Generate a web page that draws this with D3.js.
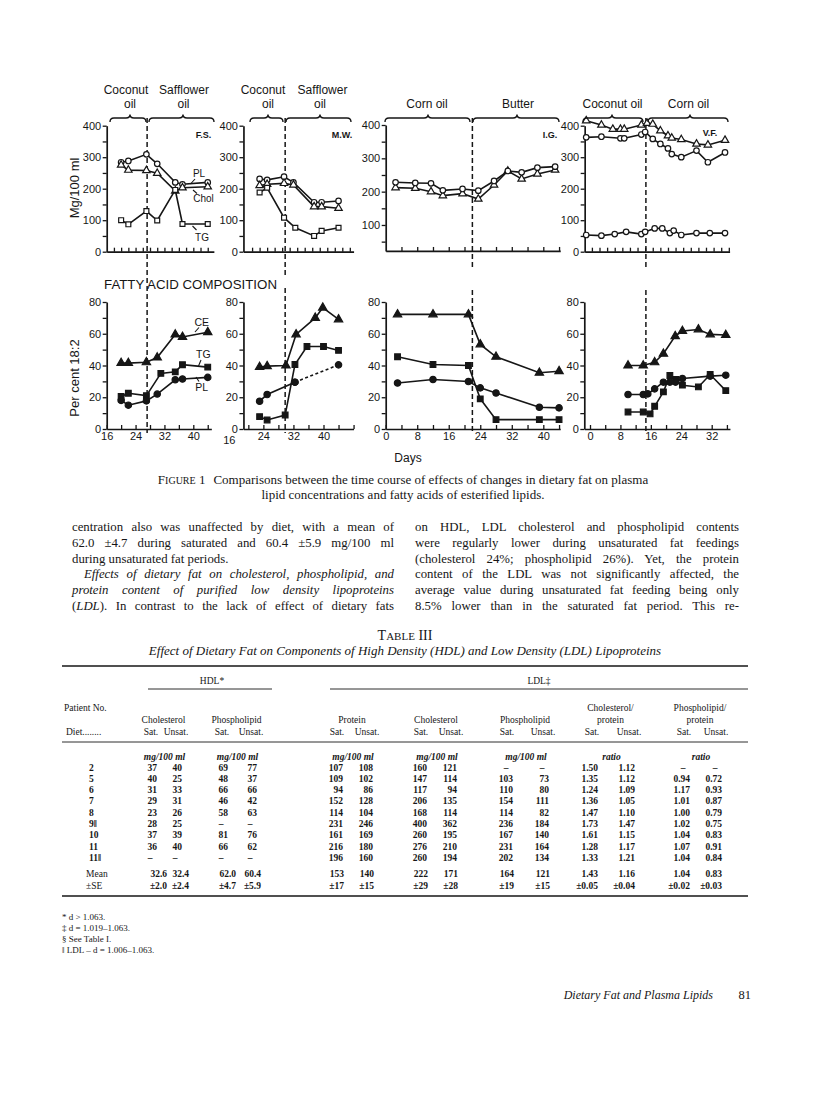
<!DOCTYPE html>
<html lang="en">
<head>
<meta charset="utf-8">
<title>Dietary Fat and Plasma Lipids - Figure 1 and Table III</title>
<script src="https://d3js.org/d3.v7.min.js"></script>
<style>
body { margin: 0; background: #fff; }
svg { display: block; background: #fff; }
</style>
</head>
<body>
<script>

// ---------- Figure 1 : plasma lipids, mg/100 ml (top row) ----------
var fsDays = [20, 22, 27, 30, 35, 37, 44];
var fsPL = [284, 288, 309, 279, 220, 214, 220];
var fsChol = [275, 259, 258, 249, 193, 203, 206];
var fsTG = [100, 87, 129, 99, 196, 88, 88];

var mwDays = [23, 25, 29.5, 32, 37.5, 39.5, 44];
var mwPL = [231, 228, 238, 220, 157, 157, 161];
var mwChol = [210, 214, 217, 212, 143, 143, 138];
var mwTGDays = [23, 25, 29.5, 32.5, 37.5, 39.5, 44];
var mwTG = [188, 203, 108, 76, 50, 66, 76];

var igDays = [2.5, 7.5, 11.5, 14.5, 19.5, 23.5, 27.5, 31, 34.5, 38.5, 43];
var igPL = [228, 226, 225, 204, 208, 203, 232, 262, 258, 272, 275];
var igChol = [212, 210, 200, 188, 194, 178, 220, 262, 238, 253, 265];

var vfCholDays = [-1, 3, 6, 8, 9, 13.5, 15, 16.5, 18.5, 20.5, 21.5, 24, 28, 31, 35.5];
var vfChol = [416, 402, 389, 389, 389, 402, 408, 405, 384, 368, 361, 356, 342, 339, 354];
var vfPLDays = [-1, 3, 8, 9, 13.5, 14.5, 16.5, 18.5, 20.5, 21.5, 24, 28, 31, 35.5];
var vfPL = [363, 365, 360, 360, 372, 380, 358, 342, 328, 310, 300, 321, 284, 315];
var vfTGDays = [-1, 3, 6.5, 9.5, 13.5, 14.5, 17, 19, 21, 22, 24, 28, 31.5, 35.5];
var vfTG = [53, 51, 56, 63, 56, 63, 74, 74, 59, 67, 53, 59, 59, 59];

// ---------- Figure 1 : fatty acid composition, per cent 18:2 (bottom row) ----------
var fsFaDays = [20, 22, 27, 30, 35, 37, 44];
var fsCE = [41.5, 41.5, 42, 45, 59.5, 58, 61];
var fsFaPL = [18, 15, 17.7, 22, 31, 31.5, 32.5];
var fsFaTGDays = [20, 22, 27, 31, 35, 37, 44];
var fsFaTG = [20.5, 22.5, 21, 35, 36, 40.5, 39];

var mwCEDays = [23, 25, 30, 32.7, 37.8, 39.8, 44];
var mwCE = [39, 39.6, 40, 59.6, 70, 76.4, 69];
var mwFaTGDays = [23, 25, 29.8, 32.4, 35.6, 40, 44];
var mwFaTG = [7.8, 5.7, 8.8, 40.6, 52, 52, 49.5];
var mwFaPLDays = [23, 25, 32.4];
var mwFaPL = [17.5, 21.7, 29.5];
var mwFaPLLateDays = [32.4, 44]; // dashed part
var mwFaPLLate = [29.5, 40.4];

var igFaDays = [3, 12, 21, 24, 28, 39, 44];
var igCE = [72.2, 72.2, 72.2, 53.3, 45.5, 35.4, 36.4];
var igFaTG = [45.5, 40.6, 40, 19, 5.9, 5.9, 5.9];
var igFaPL = [29, 31.2, 29.9, 25.9, 22.7, 13.7, 13.3];

var vfCEDays = [10, 14, 17, 19.3, 22.4, 24.3, 28.5, 31.6, 35.7];
var vfCE = [40, 40, 42, 47.4, 58.5, 61.7, 62.7, 59.6, 59.2];
var vfFaPLDays = [10, 14, 15.2, 17, 19.3, 21, 22.5, 24.3, 31.6, 35.7];
var vfFaPL = [21.7, 21.7, 22.1, 25.3, 29.5, 29.5, 29.5, 31.8, 33.3, 33.9];
var vfFaTGDays = [10, 14, 15.8, 17, 19.3, 21, 22.5, 24.3, 28.5, 31.6, 35.7];
var vfFaTG = [10.7, 10.7, 9.5, 14.3, 23.4, 33.7, 31.2, 27.6, 26.5, 34.3, 24.2];

// day of the diet change in each panel
var dietSwitch = [27.2, 29.8, 22, 14.7];
var panelIds = ["F.S.", "M.W.", "I.G.", "V.F."];

// ---------- Table III ----------
var patientNo = ["2", "5", "6", "7", "8", "9\u2016", "10", "11", "11\u2016"];
var hdlCholSat = [37, 40, 31, 29, 23, 28, 37, 36, null];
var hdlCholUnsat = [40, 25, 33, 31, 26, 25, 39, 40, null];
var hdlPLSat = [69, 48, 66, 46, 58, null, 81, 66, null];
var hdlPLUnsat = [77, 37, 66, 42, 63, null, 76, 62, null];
var ldlProtSat = [107, 109, 94, 152, 114, 231, 161, 216, 196];
var ldlProtUnsat = [108, 102, 86, 128, 104, 246, 169, 180, 160];
var ldlCholSat = [160, 147, 117, 206, 168, 400, 260, 276, 260];
var ldlCholUnsat = [121, 114, 94, 135, 114, 362, 195, 210, 194];
var ldlPLSat = [null, 103, 110, 154, 114, 236, 167, 231, 202];
var ldlPLUnsat = [null, 73, 80, 111, 82, 184, 140, 164, 134];
var cholProtSat = ["1.50", "1.35", "1.24", "1.36", "1.47", "1.73", "1.61", "1.28", "1.33"];
var cholProtUnsat = ["1.12", "1.12", "1.09", "1.05", "1.10", "1.47", "1.15", "1.17", "1.21"];
var plProtSat = [null, "0.94", "1.17", "1.01", "1.00", "1.02", "1.04", "1.07", "1.04"];
var plProtUnsat = [null, "0.72", "0.93", "0.87", "0.79", "0.75", "0.83", "0.91", "0.84"];
var tableMean = ["32.6", "32.4", "62.0", "60.4", "153", "140", "222", "171", "164", "121", "1.43", "1.16", "1.04", "0.83"];
var tableSE = ["\u00b12.0", "\u00b12.4", "\u00b14.7", "\u00b15.9", "\u00b117", "\u00b115", "\u00b129", "\u00b128", "\u00b119", "\u00b115", "\u00b10.05", "\u00b10.04", "\u00b10.02", "\u00b10.03"];

var ink = "#161616";
var sans = "'Liberation Sans', Arial, Helvetica, sans-serif";
var serif = "'Liberation Serif', 'Times New Roman', serif";

var svg = d3.select("body").append("svg")
	.attr("width", 816)
	.attr("height", 1100);

// scales
var panelX = [
	d3.scaleLinear().domain([16, 40]).range([106.7, 193.3]),
	d3.scaleLinear().domain([16, 40]).range([233.3, 323.5]),
	d3.scaleLinear().domain([0, 40]).range([385.7, 543.3]),
	d3.scaleLinear().domain([0, 32]).range([590, 711.7])
];
var topY = d3.scaleLinear().domain([0, 400]).range([251.7, 125.7]);
var topY3 = d3.scaleLinear().domain([0, 400]).range([258.3, 125]);
var botY = d3.scaleLinear().domain([0, 80]).range([429, 302]);

function drawAxes(x, y, xExt, yExt, xTicks, xLabels, yTicks, yLabels) {
	var xs = x.copy().domain(xExt).range(xExt.map(x));
	var ys = y.copy().domain(yExt).range(yExt.map(y));
	var gx = svg.append("g")
		.attr("transform", "translate(0," + ys(yExt[0]) + ")")
		.call(d3.axisBottom(xs).tickValues(xTicks).tickSizeInner(-4).tickSizeOuter(0).tickPadding(3)
			.tickFormat(function(d) { return xLabels.indexOf(d) >= 0 ? d : ""; }));
	var gy = svg.append("g")
		.attr("transform", "translate(" + xs(xExt[0]) + ",0)")
		.call(d3.axisLeft(ys).tickValues(yTicks).tickSizeInner(4).tickSizeOuter(0).tickPadding(1.5)
			.tickFormat(function(d) { return yLabels.indexOf(d) >= 0 ? d : ""; }));
	[gx, gy].forEach(function(g) {
		g.attr("color", ink).attr("font-family", sans).attr("font-size", 11);
		g.select(".domain").attr("stroke-width", 1.7);
		g.selectAll(".tick line").attr("stroke-width", 1.3);
	});
}

function drawSeries(x, y, days, vals, shape, filled, dashed) {
	var pts = days.map(function(d, i) { return [x(d), y(vals[i])]; });
	svg.append("path")
		.attr("d", d3.line()(pts))
		.attr("fill", "none")
		.attr("stroke", ink)
		.attr("stroke-width", 1.6)
		.attr("stroke-dasharray", dashed ? "3,2.5" : null);
	if (!shape) return;
	svg.selectAll(null)
		.data(pts)
		.enter()
		.append("path")
		.attr("transform", function(d) { return "translate(" + d + ")"; })
		.attr("d", d3.symbol().type(shape).size(filled ? (shape === d3.symbolTriangle ? 30 : 32) : 24))
		.attr("fill", filled ? ink : "#fff")
		.attr("stroke", ink)
		.attr("stroke-width", 1.2);
}

function brace(x0, x1, xm, y) {
	var p = d3.path();
	p.moveTo(x0, y + 4);
	p.quadraticCurveTo(x0, y, x0 + 4, y);
	p.lineTo(xm - 4, y);
	p.quadraticCurveTo(xm, y, xm, y - 3.5);
	p.quadraticCurveTo(xm, y, xm + 4, y);
	p.lineTo(x1 - 4, y);
	p.quadraticCurveTo(x1, y, x1, y + 4);
	svg.append("path").attr("d", p.toString())
		.attr("fill", "none").attr("stroke", ink).attr("stroke-width", 1.4);
}

function txt(s, x, y, size, opts) {
	opts = opts || {};
	return svg.append("text")
		.attr("x", x).attr("y", y)
		.attr("font-family", opts.family || sans)
		.attr("font-size", size)
		.attr("font-weight", opts.weight || null)
		.attr("font-style", opts.italic ? "italic" : null)
		.attr("text-anchor", opts.anchor || "middle")
		.attr("fill", ink)
		.text(s);
}

function segLine(x1, y1, x2, y2, w) {
	svg.append("line").attr("x1", x1).attr("y1", y1).attr("x2", x2).attr("y2", y2)
		.attr("stroke", ink).attr("stroke-width", w || 1.1);
}

// ---------- axes ----------
var topExt = [[16, 45.7], [18.7, 48], [0, 44.3], [-1.4, 36.7]];
var botExt = [[16, 45], [18.7, 48], [0, 44.3], [-1.5, 36.8]];
var topTicks = [d3.range(18, 46, 2), d3.range(21, 48.1, 2), d3.range(4, 44.4, 4), d3.range(0.5, 36.7, 2)];
var botTicks = [d3.range(16, 45, 4), d3.range(20, 48.1, 4), d3.range(0, 44.4, 4), d3.range(0, 36.8, 4)];
var botLabels = [[16, 24, 32, 40], [24, 32, 40], [0, 8, 16, 24, 32, 40], [0, 8, 16, 24, 32]];

panelX.forEach(function(x, i) {
	if (i === 2) {
		drawAxes(x, topY3, topExt[i], [22, 400], topTicks[i], [], d3.range(50, 401, 50), [100, 200, 300, 400]);
	} else {
		drawAxes(x, topY, topExt[i], [0, 400], topTicks[i], [], d3.range(0, 401, 50), [0, 100, 200, 300, 400]);
	}
	drawAxes(x, botY, botExt[i], [0, 80], botTicks[i], botLabels[i], d3.range(0, 81, 10), [0, 20, 40, 60, 80]);
});
// "16" printed left of the second panel's axis, under its "0"
txt("16", panelX[1](16) - 4, botY(0) + 14.5, 11);

// diet change lines
dietSwitch.forEach(function(d, i) {
	var xp = panelX[i](d);
	var segs = i === 0 ? [[118, 433]] : [[118, i === 1 ? 275 : 268], [i === 1 ? 288 : 290, 433]];
	segs.forEach(function(s) {
		svg.append("line").attr("x1", xp).attr("x2", xp).attr("y1", s[0]).attr("y2", s[1])
			.attr("stroke", ink).attr("stroke-width", 1.5).attr("stroke-dasharray", "5,3");
	});
});

// ---------- series ----------
var C = d3.symbolCircle, S = d3.symbolSquare, T = d3.symbolTriangle;
drawSeries(panelX[0], topY, fsDays, fsPL, C);
drawSeries(panelX[0], topY, fsDays, fsChol, T);
drawSeries(panelX[0], topY, fsDays, fsTG, S);
drawSeries(panelX[1], topY, mwDays, mwPL, C);
drawSeries(panelX[1], topY, mwDays, mwChol, T);
drawSeries(panelX[1], topY, mwTGDays, mwTG, S);
drawSeries(panelX[2], topY3, igDays, igChol, T);
drawSeries(panelX[2], topY3, igDays, igPL, C);
drawSeries(panelX[3], topY, vfCholDays, vfChol, T);
drawSeries(panelX[3], topY, vfPLDays, vfPL, C);
drawSeries(panelX[3], topY, vfTGDays, vfTG, C);

drawSeries(panelX[0], botY, fsFaDays, fsCE, T, true);
drawSeries(panelX[0], botY, fsFaTGDays, fsFaTG, S, true);
drawSeries(panelX[0], botY, fsFaDays, fsFaPL, C, true);
drawSeries(panelX[1], botY, mwCEDays, mwCE, T, true);
drawSeries(panelX[1], botY, mwFaTGDays, mwFaTG, S, true);
drawSeries(panelX[1], botY, mwFaPLLateDays, mwFaPLLate, C, true, true);
drawSeries(panelX[1], botY, mwFaPLDays, mwFaPL, C, true);
drawSeries(panelX[2], botY, igFaDays, igCE, T, true);
drawSeries(panelX[2], botY, igFaDays, igFaTG, S, true);
drawSeries(panelX[2], botY, igFaDays, igFaPL, C, true);
drawSeries(panelX[3], botY, vfCEDays, vfCE, T, true);
drawSeries(panelX[3], botY, vfFaTGDays, vfFaTG, S, true);
drawSeries(panelX[3], botY, vfFaPLDays, vfFaPL, C, true);

// ---------- diet braces and labels ----------
brace(110, 146, 130, 118); brace(149, 214, 183, 118);
brace(250, 283, 268, 118); brace(286, 351, 320, 118);
brace(385, 470, 428, 118); brace(473, 559, 517, 118);
brace(583, 643, 612, 118); brace(648, 728, 690, 118);

[["Coconut", 126, 94], ["oil", 130, 108], ["Safflower", 184, 94], ["oil", 183.5, 108],
 ["Coconut", 263, 94], ["oil", 268, 108], ["Safflower", 322.5, 94], ["oil", 320, 108],
 ["Corn oil", 427, 108], ["Butter", 518, 108],
 ["Coconut oil", 612.5, 108], ["Corn oil", 688.5, 108]].forEach(function(d) {
	txt(d[0], d[1], d[2], 12);
});

[[203.5, 137.5], [342, 137.5], [550, 137.5], [710, 135.5]].forEach(function(p, i) {
	txt(panelIds[i], p[0], p[1], 9, {weight: "bold"});
});

// curve labels, first panel
txt("PL", 199, 177, 10);
txt("Chol", 203.5, 202, 10);
txt("TG", 202, 241, 10);
segLine(195, 179, 190.5, 184);
segLine(197, 193.5, 193, 190);
segLine(196.5, 230, 192.5, 226);
txt("CE", 201.7, 325.5, 10.5);
txt("TG", 203.3, 358, 10.5);
txt("PL", 201.7, 391, 10.5);
segLine(199, 327.5, 195, 332);
segLine(201, 360, 198.5, 366);
segLine(199, 381.5, 196, 377);

// axis titles
txt("Mg/100 ml", 0, 0, 13).attr("transform", "translate(79,188) rotate(-90)");
txt("Per cent 18:2", 0, 0, 13).attr("transform", "translate(79,378) rotate(-90)");
txt("FATTY ACID COMPOSITION", 190.5, 289, 12.5).attr("textLength", 173).attr("lengthAdjust", "spacingAndGlyphs");
txt("Days", 408, 462, 12);

// ---------- caption ----------
var cap = svg.append("text").attr("x", 403).attr("y", 484).attr("text-anchor", "middle")
	.attr("font-family", serif).attr("font-size", 13).attr("fill", ink);
cap.append("tspan").text("F");
cap.append("tspan").attr("font-size", 10).text("IGURE");
cap.append("tspan").text(" 1");
cap.append("tspan").attr("dx", 8).text("Comparisons between the time course of effects of changes in dietary fat on plasma");
txt("lipid concentrations and fatty acids of esterified lipids.", 403, 498.5, 13, {family: serif});

// ---------- body text (two justified columns) ----------
var leftLines = [
	[["centration also was unaffected by diet, with a mean of", 0]],
	[["62.0 \u00b14.7 during saturated and 60.4 \u00b15.9 mg/100 ml", 0]],
	[["during unsaturated fat periods.", 0]],
	[["Effects of dietary fat on cholesterol, phospholipid, and", 1]],
	[["protein content of purified low density lipoproteins", 1]],
	[["(", 0], ["LDL", 1], ["). In contrast to the lack of effect of dietary fats", 0]]
];
var rightLines = [
	[["on HDL, LDL cholesterol and phospholipid contents", 0]],
	[["were regularly lower during unsaturated fat feedings", 0]],
	[["(cholesterol 24%; phospholipid 26%). Yet, the protein", 0]],
	[["content of the LDL was not significantly affected, the", 0]],
	[["average value during unsaturated fat feeding being only", 0]],
	[["8.5% lower than in the saturated fat period. This re-", 0]]
];

function column(lines, x0, width, ragged, indent) {
	lines.forEach(function(segs, i) {
		var ind = indent.indexOf(i) >= 0 ? 12 : 0;
		var t = svg.append("text").attr("x", x0 + ind).attr("y", 531 + i * 15.8)
			.attr("font-family", serif).attr("font-size", 12.8).attr("fill", ink);
		segs.forEach(function(s) {
			t.append("tspan").attr("font-style", s[1] ? "italic" : null).text(s[0]);
		});
		if (ragged.indexOf(i) >= 0) return;
		var len = t.node().getComputedTextLength();
		var spaces = (t.text().match(/ /g) || []).length;
		if (spaces) t.style("word-spacing", ((width - ind - len) / spaces) + "px");
	});
}
column(leftLines, 72, 322, [2], [3]);
column(rightLines, 415, 324, [], []);

// ---------- Table III ----------
var tt = svg.append("text").attr("x", 405).attr("y", 640).attr("text-anchor", "middle")
	.attr("font-family", serif).attr("font-size", 14).attr("fill", ink);
tt.append("tspan").text("T");
tt.append("tspan").attr("font-size", 11).text("ABLE");
tt.append("tspan").text(" III");
txt("Effect of Dietary Fat on Components of High Density (HDL) and Low Density (LDL) Lipoproteins",
	405, 655, 13, {family: serif, italic: true});

segLine(62, 666, 748, 666, 1.6);
txt("HDL*", 212, 683.5, 9.5, {family: serif});
txt("LDL\u2021", 539, 683.5, 9.5, {family: serif});
segLine(148, 689, 272, 689, 0.9);
segLine(330, 689, 748, 689, 0.9);

var tf = 9.5;
txt("Patient No.", 64, 710.5, tf, {family: serif, anchor: "start"});
txt("Diet........", 66, 734.5, tf, {family: serif, anchor: "start"});

// column layout: right edge of numbers, right edge for mean rows
var tcols = [
	{v: hdlCholSat, r: 157, m: 167}, {v: hdlCholUnsat, r: 182, m: 189},
	{v: hdlPLSat, r: 228, m: 236}, {v: hdlPLUnsat, r: 257, m: 261},
	{v: ldlProtSat, r: 343, m: 344}, {v: ldlProtUnsat, r: 373, m: 374},
	{v: ldlCholSat, r: 427, m: 428}, {v: ldlCholUnsat, r: 457, m: 458},
	{v: ldlPLSat, r: 513, m: 514}, {v: ldlPLUnsat, r: 549, m: 550},
	{v: cholProtSat, r: 598, m: 598}, {v: cholProtUnsat, r: 635, m: 635},
	{v: plProtSat, r: 690, m: 690}, {v: plProtUnsat, r: 722, m: 722}
];
var groupHeads = [
	[["Cholesterol"], "mg/100 ml"], [["Phospholipid"], "mg/100 ml"], [["Protein"], "mg/100 ml"],
	[["Cholesterol"], "mg/100 ml"], [["Phospholipid"], "mg/100 ml"],
	[["Cholesterol/", "protein"], "ratio"], [["Phospholipid/", "protein"], "ratio"]
];
groupHeads.forEach(function(g, k) {
	var cx = (tcols[2 * k].r + tcols[2 * k + 1].r) / 2 - 6;
	if (g[0].length === 2) {
		txt(g[0][0], cx, 710.5, tf, {family: serif});
		txt(g[0][1], cx, 722.5, tf, {family: serif});
	} else {
		txt(g[0][0], cx, 722.5, tf, {family: serif});
	}
	txt(g[1], cx + 1, 759.5, tf, {family: serif, italic: true, weight: "bold"});
	txt("Sat.", tcols[2 * k].r - 6, 734.5, tf, {family: serif});
	txt("Unsat.", tcols[2 * k + 1].r - 6, 734.5, tf, {family: serif});
});
segLine(62, 742, 748, 742, 0.9);

patientNo.forEach(function(p, i) {
	txt(p, 89, 770.5 + i * 11.3, tf, {family: serif, anchor: "start", weight: "bold"});
});
tcols.forEach(function(c, j) {
	c.v.forEach(function(v, i) {
		var y = 770.5 + i * 11.3;
		if (v === null) txt("\u2013", c.r - 7, y, tf, {family: serif, weight: "bold"});
		else txt(v, c.r, y, tf, {family: serif, anchor: "end", weight: "bold"});
	});
	txt(tableMean[j], c.m, 876.5, tf, {family: serif, anchor: "end", weight: "bold"});
	txt(tableSE[j], c.m, 888.5, tf, {family: serif, anchor: "end", weight: "bold"});
});
txt("Mean", 86, 876.5, tf, {family: serif, anchor: "start"});
txt("\u00b1SE", 86, 888.5, tf, {family: serif, anchor: "start"});
segLine(62, 896, 748, 896, 1.6);

["* d > 1.063.", "\u2021 d = 1.019\u20131.063.", "\u00a7 See Table I.", "\u2016 LDL \u2013 d = 1.006\u20131.063."]
	.forEach(function(f, i) {
		txt(f, 62, 920 + i * 11, 9, {family: serif, anchor: "start"});
	});

txt("Dietary Fat and Plasma Lipids", 713, 999, 12, {family: serif, anchor: "end", italic: true});
txt("81", 751, 999, 12.5, {family: serif, anchor: "end"});

</script>
</body>
</html>
